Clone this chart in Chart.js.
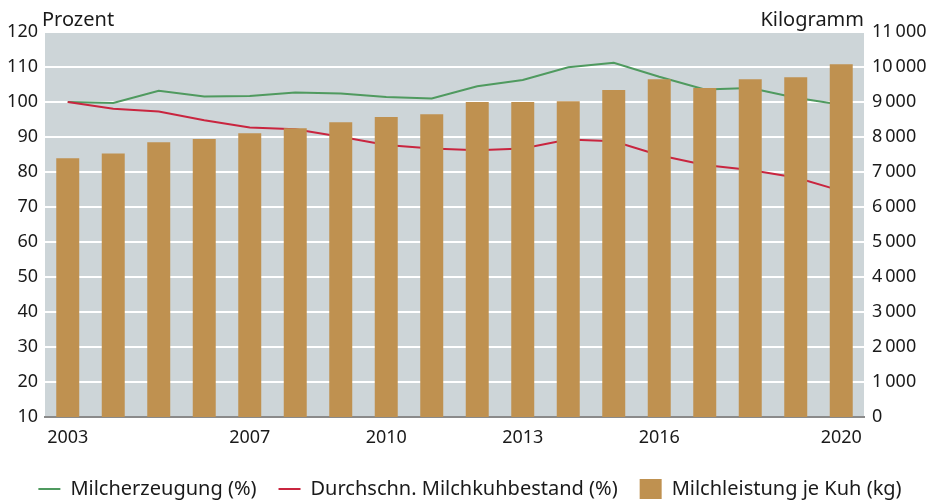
<!DOCTYPE html>
<html lang="de">
<head>
<meta charset="utf-8">
<title>Milcherzeugung</title>
<script src="https://cdn.jsdelivr.net/npm/chart.js@4.4.1/dist/chart.umd.min.js"></script>
<style>
  html, body { margin: 0; padding: 0; background: #fff; }
  #wrap { width: 940px; height: 501px; position: relative; }
</style>
</head>
<body>
<div id="wrap"><canvas id="milkChart"></canvas></div>
<script>
// Daten
const years = ["2003", "2004", "2005", "2006", "2007", "2008", "2009", "2010", "2011",
  "2012", "2013", "2014", "2015", "2016", "2017", "2018", "2019", "2020"];
const shownYears = ["2003", "2007", "2010", "2013", "2016", "2020"];
const milcherzeugung = [100, 99.7, 103.2, 101.6, 101.7, 102.7, 102.4, 101.4, 101.0,
  104.5, 106.3, 109.9, 111.2, 107.2, 103.6, 104.0, 101.2, 99.2];
const milchkuhbestand = [100, 98.1, 97.3, 94.8, 92.7, 92.2, 90.1, 87.7, 86.7,
  86.2, 86.7, 89.3, 88.8, 84.8, 82.0, 80.6, 78.4, 74.6];
const milchleistung = [7390, 7530, 7850, 7940, 8110, 8250, 8420, 8570, 8650,
  9000, 9000, 9020, 9340, 9650, 9400, 9650, 9710, 10080];

const FONT = "'Noto Sans', sans-serif";
const TEXT = "#1a1a1a";

// Hintergrund der Zeichenfläche + Achsentitel oben
const plotDeco = {
  id: "plotDeco",
  beforeDraw(chart) {
    const { ctx, chartArea: a } = chart;
    ctx.save();
    ctx.fillStyle = "#cdd5d8";
    ctx.fillRect(a.left, a.top, a.right - a.left, a.bottom - a.top);
    ctx.restore();
  },
  afterDraw(chart) {
    const { ctx, chartArea: a } = chart;
    ctx.save();
    ctx.font = "20px " + FONT;
    ctx.fillStyle = TEXT;
    ctx.textBaseline = "alphabetic";
    ctx.textAlign = "left";
    ctx.fillText("Prozent", 42, 26);
    ctx.textAlign = "right";
    ctx.fillText("Kilogramm", a.right, 26);
    ctx.restore();
  },
};

const ctx = document.getElementById("milkChart").getContext("2d");
new Chart(ctx, {
  type: "bar",
  data: {
    labels: years,
    datasets: [
      {
        type: "line",
        label: "Milcherzeugung (%)",
        data: milcherzeugung,
        yAxisID: "y",
        borderColor: "#4f9a5f",
        backgroundColor: "#4f9a5f",
        borderWidth: 2,
        pointRadius: 0,
        tension: 0,
        order: 2,
        pointStyle: "line",
      },
      {
        type: "line",
        label: "Durchschn. Milchkuhbestand (%)",
        data: milchkuhbestand,
        yAxisID: "y",
        borderColor: "#c9253f",
        backgroundColor: "#c9253f",
        borderWidth: 2,
        pointRadius: 0,
        tension: 0,
        order: 1,
        pointStyle: "line",
      },
      {
        label: "Milchleistung je Kuh (kg)",
        data: milchleistung,
        yAxisID: "y1",
        backgroundColor: "#bf9150",
        borderWidth: 0,
        categoryPercentage: 1,
        barPercentage: 0.505,
        order: 0,
        pointStyle: "rect",
      },
    ],
  },
  options: {
    responsive: true,
    maintainAspectRatio: false,
    animation: false,
    layout: { padding: { top: 32, left: 0, right: 0, bottom: -8 } },
    plugins: {
      legend: {
        position: "bottom",
        labels: {
          sort: (a, b) => a.datasetIndex - b.datasetIndex,
          usePointStyle: true,
          pointStyleWidth: 22,
          boxHeight: 22,
          padding: 22,
          color: TEXT,
          font: { family: FONT, size: 20 },
        },
      },
      tooltip: { enabled: false },
    },
    scales: {
      x: {
        grid: { display: false },
        border: { display: true, color: "#8a8a8a", width: 2 },
        ticks: {
          autoSkip: false,
          maxRotation: 0,
          padding: 2,
          color: TEXT,
          font: { family: FONT, size: 18 },
          callback: function (val) {
            const lbl = this.getLabelForValue(val);
            return shownYears.includes(lbl) ? lbl : "";
          },
        },
        afterFit(scale) { scale.height = 40; },
      },
      y: {
        position: "left",
        min: 10,
        max: 120,
        ticks: {
          stepSize: 10,
          padding: 7,
          color: TEXT,
          font: { family: FONT, size: 18 },
        },
        grid: { color: "#ffffff", lineWidth: 2, drawTicks: false },
        border: { display: false },
        afterFit(scale) { scale.width = 45; },
      },
      y1: {
        position: "right",
        min: 0,
        max: 11000,
        ticks: {
          stepSize: 1000,
          padding: 8,
          color: TEXT,
          font: { family: FONT, size: 18 },
          callback: (v) => v >= 1000
            ? Math.floor(v / 1000) + "\u2009" + String(v % 1000).padStart(3, "0")
            : String(v),
        },
        grid: { display: false, drawTicks: false },
        border: { display: false },
        afterFit(scale) { scale.width = 76; },
      },
    },
  },
  plugins: [plotDeco],
});
</script>
</body>
</html>
